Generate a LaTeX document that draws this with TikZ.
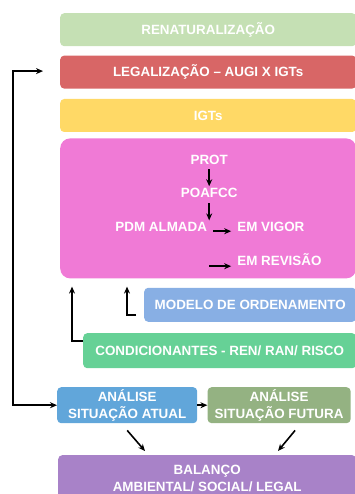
\documentclass[tikz,border=0pt]{standalone}
\usepackage{fontspec}
\setmainfont{Liberation Sans}
\usepackage{xcolor}
\usetikzlibrary{arrows.meta, positioning, calc}

\definecolor{renatgreen}{HTML}{C5E0B4}
\definecolor{legalred}{HTML}{D86666}
\definecolor{igtyellow}{HTML}{FFD966}
\definecolor{planpink}{HTML}{F07AD6}
\definecolor{modeloblue}{HTML}{88AFE4}
\definecolor{condgreen}{HTML}{66D196}
\definecolor{atualblue}{HTML}{61A6DA}
\definecolor{futurasage}{HTML}{94B282}
\definecolor{balancopurple}{HTML}{A882C8}

\begin{document}
\begin{tikzpicture}[
  x=1pt, y=-1pt,
  box/.style={rounded corners=4pt, align=center, text=white, anchor=north west,
              font=\fontsize{13.4}{17}\selectfont\bfseries, inner sep=2pt},
  band/.style={box, minimum width=296pt, minimum height=33pt},
  txt/.style={text=white, font=\fontsize{13.4}{17}\selectfont\bfseries, inner sep=2pt},
  arr/.style={-{Stealth[length=7pt, width=6pt]}, line width=1.6pt},
  dblarr/.style={{Stealth[length=7pt, width=6pt]}-{Stealth[length=7pt, width=6pt]}, line width=1.6pt},
]
\useasboundingbox (0,0) rectangle (354,494);

% --- stacked bands at the top ---
\node[band, fill=renatgreen] (renat) at (60,13) {RENATURALIZAÇÃO};
\node[band, fill=legalred, below=9pt of renat] (legal) {LEGALIZAÇÃO – AUGI X IGTs};
\node[band, fill=igtyellow, below=10pt of legal] (igts) {IGTs};

% --- planning hierarchy inside the pink block ---
\node[box, fill=planpink, minimum width=296pt, minimum height=140pt,
      rounded corners=10pt, below=6pt of igts] (pink) {};
\node[txt] (prot) at ($(pink.north)+(1,22)$) {PROT};
\node[txt] (poafcc) at ($(prot)+(0,33)$) {POAFCC};
\node[txt] (pdm) at ($(poafcc)+(-48,34)$) {PDM ALMADA};
\node[txt, anchor=west] (vigor) at ($(pdm.east)+(26,0)$) {EM VIGOR};
\node[txt, anchor=west] (revisao) at ($(vigor.west)+(0,32)$) {EM REVISÃO};
\coordinate (revstart) at ($(revisao.west)+(-26,7)$);

\draw[arr, shorten <=2pt] (prot.south) -- (poafcc.north);
\draw[arr, shorten <=3pt] (poafcc.south) -- (poafcc.south |- pdm.north);
\draw[arr, shorten <=4pt, shorten >=4pt] ([yshift=-4pt]pdm.east) -- ([yshift=-4pt]vigor.west);
\draw[arr, shorten >=4pt] (revstart) -- (revstart -| revisao.west);

% --- inputs feeding the plans ---
\node[box, fill=modeloblue, minimum width=212pt, minimum height=34pt,
      below=9pt of pink.south east, anchor=north east] (modelo) {MODELO DE ORDENAMENTO};
\node[box, fill=condgreen, minimum width=273pt, minimum height=35pt,
      below=11pt of modelo.south east, anchor=north east] (cond) {CONDICIONANTES - REN/ RAN/ RISCO};

\draw[arr] ($(modelo.south west)+(-8,-7)$) -| ($(pink.south west)+(67,8)$);
\draw[arr] ($(cond.north west)+(0,8)$) -| ($(pink.south west)+(12,8)$);

% --- analysis and balance ---
\node[box, fill=atualblue, minimum width=140pt, minimum height=36pt] (atual) at (57,387)
  {ANÁLISE\\SITUAÇÃO ATUAL};
\node[box, fill=futurasage, minimum width=143pt, minimum height=36pt,
      right=10pt of atual] (futura) {ANÁLISE\\SITUAÇÃO FUTURA};
\node[box, fill=balancopurple, minimum width=298pt, minimum height=47pt] (balanco) at (58,455)
  {BALANÇO\\AMBIENTAL/ SOCIAL/ LEGAL};

\draw[arr] (atual.east) -- (futura.west);
\draw[arr] ($(atual.south)+(0,7)$) -- ($(balanco.north west)+(87,-4)$);
\draw[arr] ($(futura.south)+(16,7)$) -- ($(balanco.north west)+(220,-4)$);

% --- feedback loop from the current situation to legalisation ---
\draw[dblarr] ($(legal.west)+(-17,-1)$) -- ++(-30,0) |- (atual.west);

\end{tikzpicture}
\end{document}
